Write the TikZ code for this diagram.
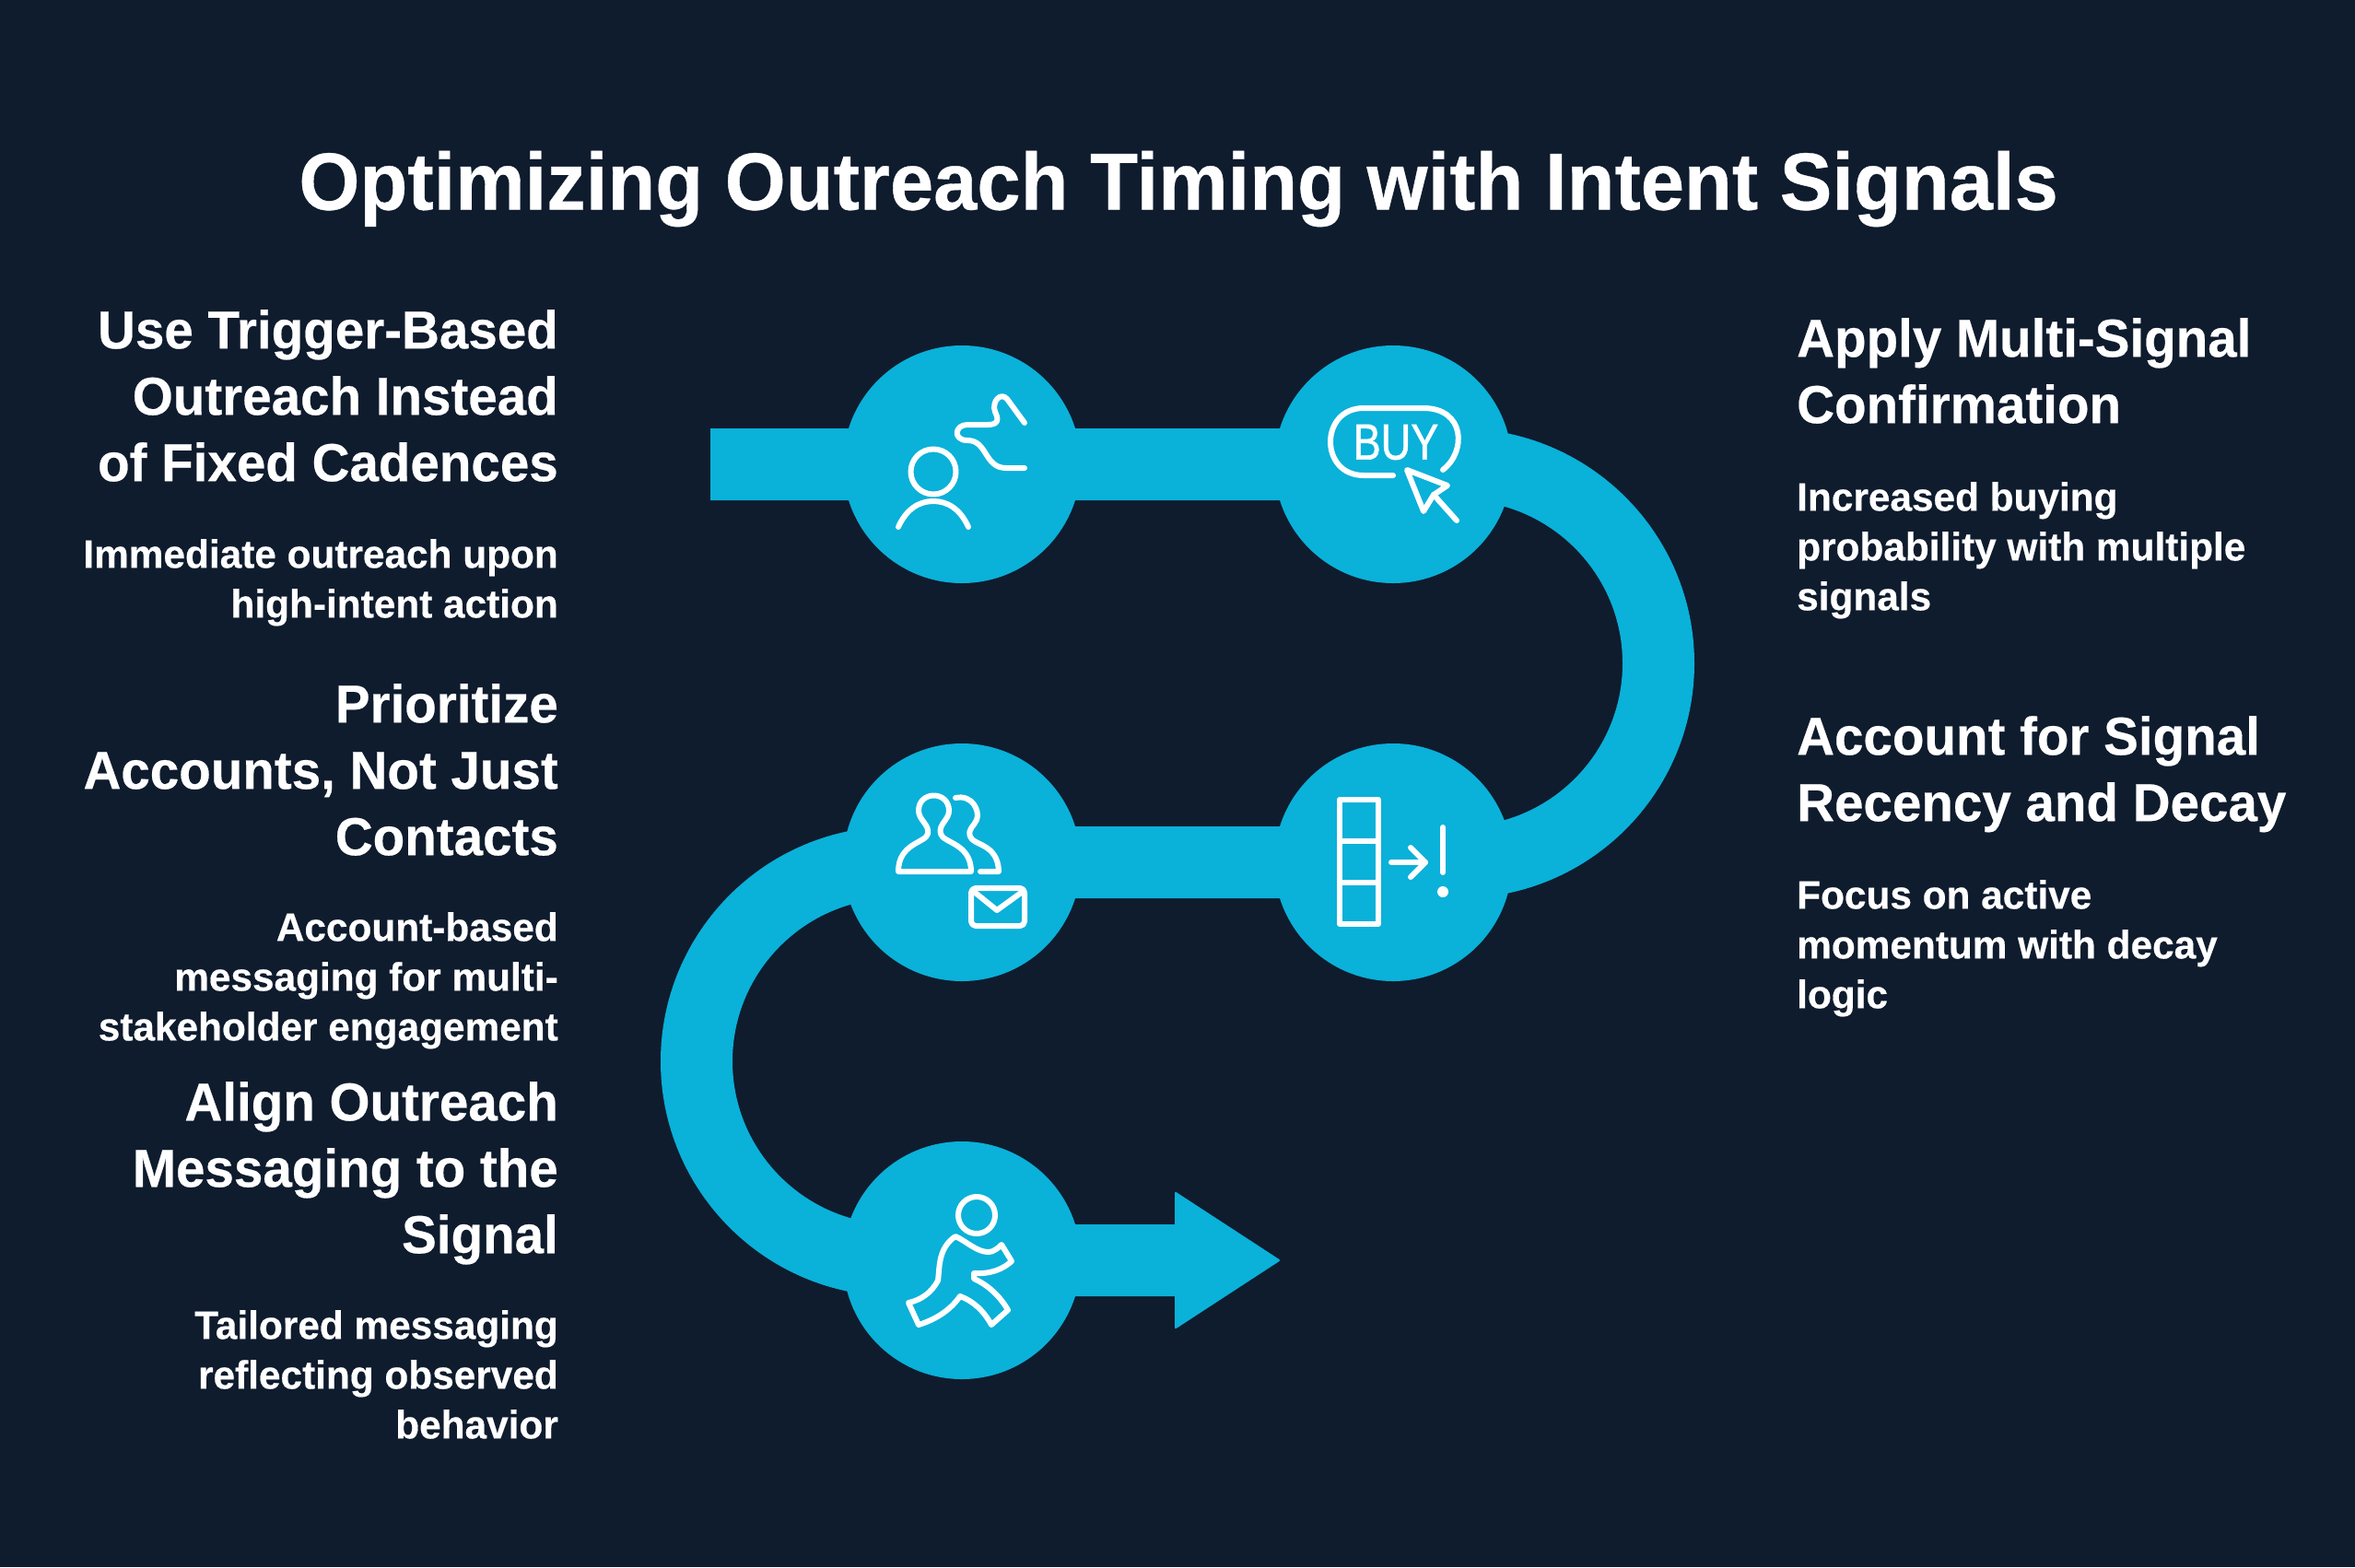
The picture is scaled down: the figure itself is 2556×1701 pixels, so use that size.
\documentclass[tikz,border=0pt]{standalone}
\usepackage{fontspec}
\setmainfont{Liberation Sans}
\newfontfamily\titlefont[BoldFeatures={FakeStretch=0.965,FakeBold=0.4}]{Liberation Sans}
\newfontfamily\headfont[BoldFeatures={FakeStretch=0.975,FakeBold=0.4}]{Liberation Sans}
\newfontfamily\bodyfont[BoldFeatures={FakeStretch=0.985,FakeBold=0.4}]{Liberation Sans}
\newfontfamily\buyfont[FakeStretch=0.82,FakeBold=1]{Liberation Sans}
\usepackage{tikz}
\definecolor{bgnavy}{HTML}{0F1C2E}
\definecolor{bandblue}{HTML}{0AB1D9}

\begin{document}
\begin{tikzpicture}[x=1pt,y=-1pt]
    \tikzstyle{stage}=[circle, fill=bandblue, minimum size=258pt, inner sep=0pt]
    \tikzstyle{band}=[draw=bandblue, line width=78pt]
    \tikzstyle{icon}=[draw=white, line width=6pt, line cap=round, line join=round]
    \tikzstyle{head}=[text=white, font=\headfont\bfseries\fontsize{58}{72}\selectfont, inner sep=0pt]
    \tikzstyle{body}=[text=white, font=\bodyfont\bfseries\fontsize{43}{54}\selectfont, inner sep=0pt]
    \tikzstyle{lefttext}=[anchor=north east, align=right]
    \tikzstyle{righttext}=[anchor=north west, align=left]

    \fill[bgnavy] (0,0) rectangle (2556,1701);
    \useasboundingbox (0,0) rectangle (2556,1701);

    \node[text=white, font=\titlefont\bfseries\fontsize{88}{100}\selectfont, inner sep=0pt] (title) at (1279,205) {Optimizing Outreach Timing with Intent Signals};

    % the band
    \coordinate (start) at (771,504);
    \coordinate (shaftend) at (1280,1368);
    \draw[band] (start) -- (1584,504) arc (-90:90:216) -- (972,936) arc (270:90:216) -- (shaftend);
    \fill[bandblue, rounded corners=2pt] (1275,1293) -- (1390,1368) -- (1275,1443) -- cycle;

    \node[stage] (trigger) at (1044,504) {};
    \node[stage] (buy) at (1512,504) {};
    \node[stage] (alert) at (1512,936) {};
    \node[stage] (accounts) at (1044,936) {};
    \node[stage] (runner) at (1044,1368) {};

    % person and squiggle
    \draw[icon] (1013,512) circle (24.5);
    \draw[icon] (975,572) .. controls (984,552) and (998,544) .. (1013,544) .. controls (1028,544) and (1042,552) .. (1051,572);
    \draw[icon] (1112,459) -- (1093,433) .. controls (1086,425) and (1076,436) .. (1080,447) .. controls (1084,455) and (1084,461) .. (1072,461) -- (1050,461) .. controls (1036,461) and (1034,478) .. (1050,478) .. controls (1072,478) and (1068,508) .. (1092,508) -- (1112,508);

    % buy button and pointer
    \draw[icon] (1512,516) -- (1480,516) .. controls (1432,516) and (1432,443) .. (1480,443) -- (1545,443) .. controls (1590,443) and (1592,490) .. (1566,510);
    \node[text=white, font=\buyfont\fontsize{55}{55}\selectfont, inner sep=0pt] (buytext) at (1515,480) {BUY};
    \draw[icon] (1527,510) -- (1571,527) -- (1556,537) -- (1545,555) -- cycle;
    \draw[icon] (1556,537) -- (1581,565);

    % stacked bars and alert
    \draw[icon] (1454,868) rectangle (1496,1003);
    \draw[icon] (1454,913) -- (1496,913);
    \draw[icon] (1454,958) -- (1496,958);
    \draw[icon] (1510,936) -- (1547,936);
    \draw[icon] (1531,920) -- (1547,936) -- (1531,952);
    \draw[icon] (1566,898) -- (1566,947);
    \fill[white] (1566,968) circle (6);

    % two people and envelope
    \draw[icon] (975,946) -- (1054,946) .. controls (1054,915) and (1023,915) .. (1021,905) .. controls (1018,895) and (1030,890) .. (1030,880) .. controls (1030,858) and (997,858) .. (997,880) .. controls (997,890) and (1009,895) .. (1007,905) .. controls (1005,915) and (975,915) .. (975,946) -- cycle;
    \draw[icon] (1037,866) .. controls (1055,862) and (1064,880) .. (1060,890) .. controls (1057,897) and (1050,900) .. (1053,908) .. controls (1056,918) and (1083,915) .. (1084,946) -- (1064,946);
    \draw[icon, rounded corners=5pt] (1054,964) rectangle (1112,1005);
    \draw[icon] (1056,967) -- (1082,988) -- (1111,967);

    % runner
    \draw[icon] (1060,1319) circle (20);
    \draw[icon] (1037,1342) .. controls (1050,1348) and (1060,1359) .. (1073,1359) .. controls (1078,1359) and (1083,1355) .. (1087,1351) -- (1098,1369) .. controls (1088,1378) and (1075,1383) .. (1057,1382) -- (1057,1388) .. controls (1073,1395) and (1086,1408) .. (1094,1422) -- (1076,1438) .. controls (1068,1423) and (1056,1412) .. (1042,1407) .. controls (1030,1424) and (1013,1433) .. (997,1438) -- (986,1414) .. controls (1000,1411) and (1011,1403) .. (1018,1390) .. controls (1020,1375) and (1018,1355) .. (1037,1342) -- cycle;

    % left column
    \node[head, lefttext] (triggerhead) at (606,336) {Use Trigger-Based\\Outreach Instead\\of Fixed Cadences};
    \node[body, lefttext] (triggerbody) at (606,585) {Immediate outreach upon\\high-intent action};
    \node[head, lefttext] (accountshead) at (606,742) {Prioritize\\Accounts, Not Just\\Contacts};
    \node[body, lefttext] (accountsbody) at (606,990) {Account-based\\messaging for multi-\\stakeholder engagement};
    \node[head, lefttext] (runnerhead) at (606,1174) {Align Outreach\\Messaging to the\\Signal};
    \node[body, lefttext] (runnerbody) at (606,1422) {Tailored messaging\\reflecting observed\\behavior};

    % right column
    \node[head, righttext] (buyhead) at (1950,345) {Apply Multi-Signal\\Confirmation};
    \node[body, righttext] (buybody) at (1950,523) {Increased buying\\probability with multiple\\signals};
    \node[head, righttext] (alerthead) at (1950,777) {Account for Signal\\Recency and Decay};
    \node[body, righttext] (alertbody) at (1950,955) {Focus on active\\momentum with decay\\logic};
\end{tikzpicture}
\end{document}
